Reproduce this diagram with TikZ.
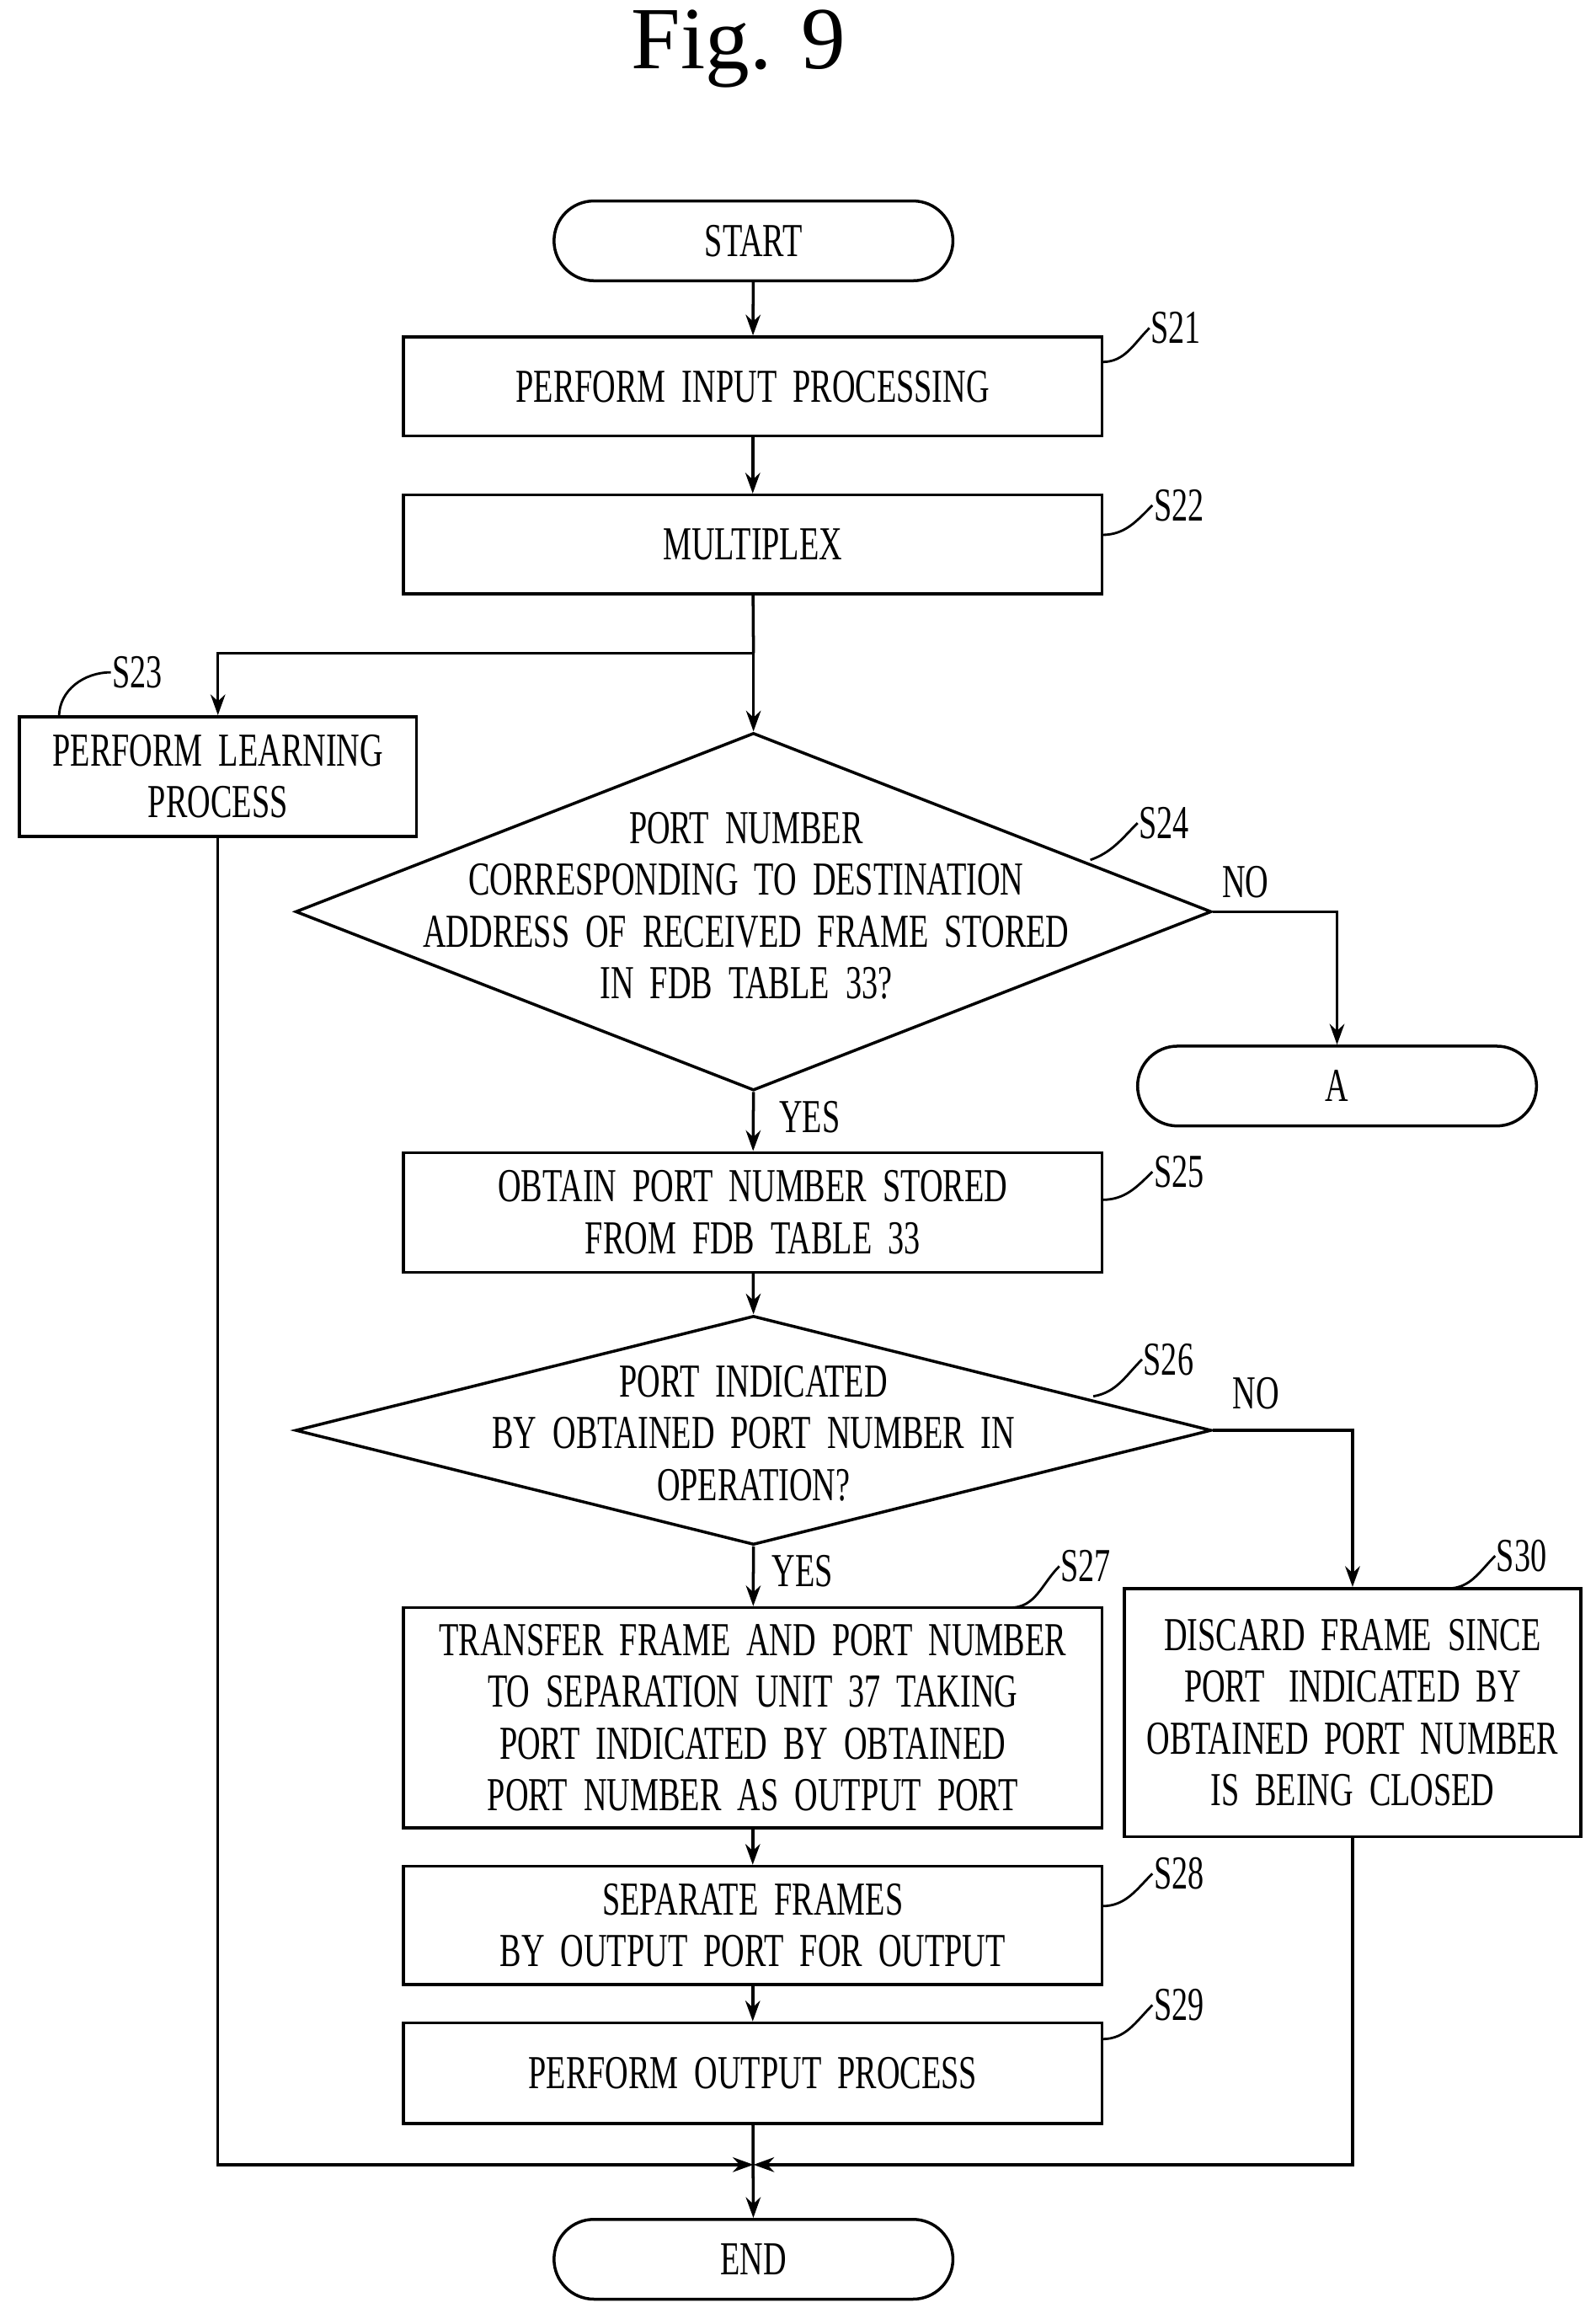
\documentclass[tikz,border=0pt]{standalone}
\usepackage{fontspec}
\setmainfont{Liberation Serif}[FakeStretch=0.68]
\newfontfamily\titlefont{Liberation Serif}
\usetikzlibrary{shapes.geometric,arrows.meta}
\begin{document}
\begin{tikzpicture}[x=0.5pt,y=-0.5pt,line width=1pt,
 box/.style={draw,rectangle,align=center,font=\fontsize{16}{17.5}\selectfont,inner sep=0pt},
 pill/.style={draw,rounded corners=13.5pt,minimum width=135pt,minimum height=27pt,font=\fontsize{16}{17.5}\selectfont,inner sep=0pt},
 dia/.style={draw,diamond,aspect=2.56,minimum width=310pt,minimum height=121pt,inner sep=0pt},
 txt/.style={align=center,font=\fontsize{16}{17.5}\selectfont,inner sep=0pt},
 arr/.style={-{Stealth[length=7pt,width=5pt]}},
 tick/.style={line width=0.8pt}]
\useasboundingbox (0,0) rectangle (1080,1562);
\node[font=\titlefont\fontsize{30}{32}\selectfont] (title) at (500,33) {Fig. 9};
\node[pill] (start) at (510,163) {START};
\node[box,minimum width=236.5pt,minimum height=33.5pt] (s21) at (509.5,261.5) {PERFORM\ \ INPUT\ \ PROCESSING};
\node[box,minimum width=236.5pt,minimum height=33.5pt] (s22) at (509.5,368.5) {MULTIPLEX};
\node[box,minimum width=134.5pt,minimum height=40.5pt] (s23) at (147.5,525.5) {PERFORM\ \ LEARNING\\PROCESS};
\node[dia] (s24) at (510,617) {};
\node[txt] at (505,613) {PORT\ \ NUMBER\\CORRESPONDING\ \ TO\ \ DESTINATION\\ADDRESS\ \ OF\ \ RECEIVED\ \ FRAME\ \ STORED\\IN\ \ FDB\ \ TABLE\ \ 33?};
\node[pill] (a) at (905,735) {A};
\node[box,minimum width=236.5pt,minimum height=40.5pt] (s25) at (509.5,820.5) {OBTAIN\ \ PORT\ \ NUMBER\ \ STORED\\FROM\ \ FDB\ \ TABLE\ \ 33};
\node[dia,minimum height=77.5pt,aspect=4] (s26) at (510,968) {};
\node[txt] at (510,970) {PORT\ \ INDICATED\\BY\ \ OBTAINED\ \ PORT\ \ NUMBER\ \ IN\\OPERATION?};
\node[box,minimum width=236.5pt,minimum height=74.5pt] (s27) at (509.5,1162.5) {TRANSFER\ \ FRAME\ \ AND\ \ PORT\ \ NUMBER\\TO\ \ SEPARATION\ \ UNIT\ \ 37\ \ TAKING\\PORT\ \ INDICATED\ \ BY\ \ OBTAINED\\PORT\ \ NUMBER\ \ AS\ \ OUTPUT\ \ PORT};
\node[box,minimum width=154.5pt,minimum height=84pt] (s30) at (915.5,1159) {DISCARD\ \ FRAME\ \ SINCE\\PORT\ \ \ INDICATED\ \ BY\\OBTAINED\ \ PORT\ \ NUMBER\\IS\ \ BEING\ \ CLOSED};
\node[box,minimum width=236.5pt,minimum height=40pt] (s28) at (509.5,1303) {SEPARATE\ \ FRAMES\\BY\ \ OUTPUT\ \ PORT\ \ FOR\ \ OUTPUT};
\node[box,minimum width=236.5pt,minimum height=34pt] (s29) at (509.5,1403) {PERFORM\ \ OUTPUT\ \ PROCESS};
\node[pill] (end) at (510,1529) {END};
% labels
\node[txt,anchor=west] (l21) at (778,222) {S21};
\node[txt,anchor=west] (l22) at (780,342) {S22};
\node[txt,anchor=west] (l23) at (75,455) {S23};
\node[txt,anchor=west] (l24) at (770,557) {S24};
\node[txt,anchor=west] (l25) at (780,793) {S25};
\node[txt,anchor=west] (l26) at (773,920) {S26};
\node[txt,anchor=west] (l27) at (717,1060) {S27};
\node[txt,anchor=west] (l30) at (1012,1053) {S30};
\node[txt,anchor=west] (l28) at (780,1268) {S28};
\node[txt,anchor=west] (l29) at (780,1357) {S29};
\draw[tick] (746,245) to[out=0,in=225] (l21.west);
\draw[tick] (746,362) to[out=0,in=225] (l22.west);
\draw[tick] (40,485) to[out=90,in=180] (l23.west);
\draw[tick] (738,582) to[out=20,in=225] (l24.west);
\draw[tick] (746,812) to[out=0,in=225] (l25.west);
\draw[tick] (740,945) to[out=10,in=225] (l26.west);
\draw[tick] (684,1088) to[out=0,in=225] (l27.west);
\draw[tick] (980,1075) to[out=0,in=225] (l30.west);
\draw[tick] (746,1290) to[out=0,in=225] (l28.west);
\draw[tick] (746,1380) to[out=0,in=225] (l29.west);
\node[txt] (no1) at (843,597) {NO};
\node[txt] (yes1) at (548,756) {YES};
\node[txt] (no2) at (850,943) {NO};
\node[txt] (yes2) at (543,1063) {YES};
% connectors
\coordinate (j1) at (510,442);
\coordinate (j2) at (510,1465);
\draw[arr] (start) -- (s21);
\draw[arr] (s21) -- (s22);
\draw (s22) -- (j1);
\draw[arr] (j1) -| (s23.north);
\draw[arr] (j1) -- (s24.north);
\draw[arr] (s24.east) -| (a.north);
\draw[arr] (s24.south) -- (s25);
\draw[arr] (s25) -- (s26.north);
\draw[arr] (s26.east) -| (s30.north);
\draw[arr] (s26.south) -- (s27);
\draw[arr] (s27) -- (s28);
\draw[arr] (s28) -- (s29);
\draw[arr] (s29) -- (end);
\draw[arr] (s23.south) |- (j2);
\draw[arr] (s30.south) |- (j2);
\end{tikzpicture}
\end{document}
